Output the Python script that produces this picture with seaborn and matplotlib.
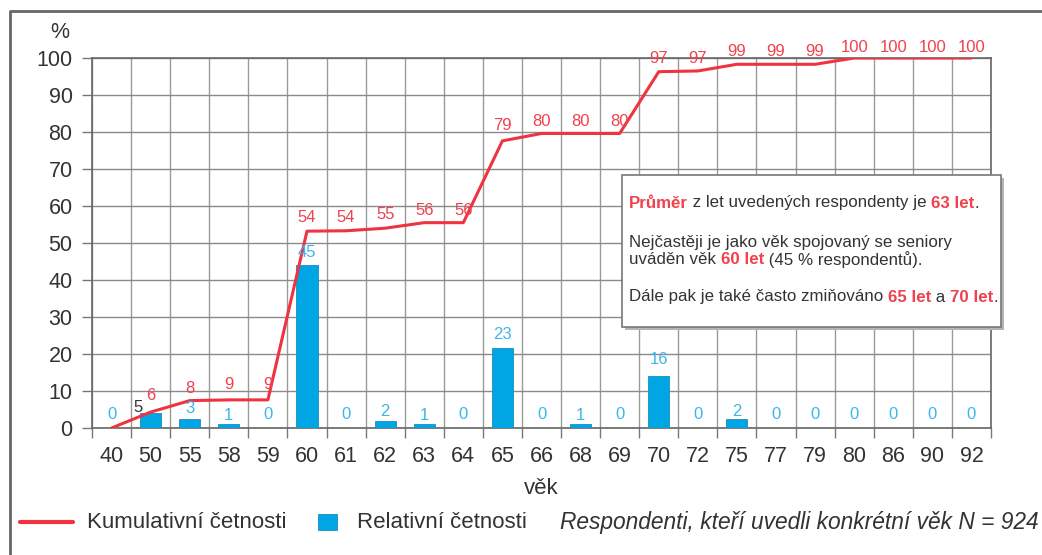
import numpy as np
import pandas as pd
import matplotlib
matplotlib.use("Agg")
import matplotlib.pyplot as plt
import seaborn as sns
from matplotlib.lines import Line2D
from matplotlib.patches import Rectangle

# ---------------- data ----------------
ages = ["40", "50", "55", "58", "59", "60", "61", "62", "63", "64", "65", "66",
        "68", "69", "70", "72", "75", "77", "79", "80", "86", "90", "92"]
rel_labels = [0, 5, 3, 1, 0, 45, 0, 2, 1, 0, 23, 0, 1, 0, 16, 0, 2, 0, 0, 0, 0, 0, 0]
rel_bars = [0, 4.0, 2.5, 1.0, 0, 44.0, 0, 2.0, 1.0, 0, 21.5, 0, 1.0, 0, 14.0, 0, 2.5,
            0, 0, 0, 0, 0, 0]
cum_labels = [None, 6, 8, 9, 9, 54, 54, 55, 56, 56, 79, 80, 80, 80, 97, 97, 99, 99, 99,
              100, 100, 100, 100]
cum_line = [0, 4.3, 7.4, 7.6, 7.6, 53.2, 53.3, 54.0, 55.5, 55.5, 77.6, 79.6, 79.6, 79.6,
            96.3, 96.5, 98.3, 98.3, 98.3, 100, 100, 100, 100]
y_ticks = [0, 10, 20, 30, 40, 50, 60, 70, 80, 90, 100]

RED = "#EF3340"
RED_TXT = "#F0414D"
BLUE = "#00A5E3"
BLUE_TXT = "#3BB6EE"
DARK = "#333333"

W, H = 1042, 555
sns.set_theme(style="white")
plt.rcParams["font.family"] = ["Liberation Sans", "DejaVu Sans"]

fig = plt.figure(figsize=(W / 100, H / 100), dpi=100)
ax = fig.add_axes([92 / W, 1 - 428 / H, (991 - 92) / W, (428 - 58) / H])

df = pd.DataFrame({"age": ages, "bar": rel_bars, "pos": np.arange(len(ages)),
                   "cum": cum_line})

sns.barplot(data=df, x="age", y="bar", order=ages, color=BLUE, saturation=1,
            width=0.54, edgecolor="#1B8FC0", linewidth=0.6, ax=ax, zorder=3)
sns.lineplot(data=df, x="pos", y="cum", color=RED, linewidth=2.2, ax=ax, zorder=4)

n = len(ages)
ax.set_xlim(-0.5, n - 0.5)
ax.set_ylim(0, 100)
ax.set_yticks(y_ticks)
ax.set_xticks(np.arange(n))
ax.set_xticklabels(ages)
ax.set_xticks(np.arange(-0.5, n, 1), minor=True)
ax.set_xlabel("")
ax.set_ylabel("")

ax.grid(False)
ax.grid(which="minor", axis="x", color="#9a9a9a", linewidth=1.0, zorder=0)
ax.grid(which="major", axis="y", color="#8a8a8a", linewidth=1.0, zorder=0)
ax.set_axisbelow(True)

ax.tick_params(axis="x", which="major", length=0, pad=13, labelsize=15.5, labelcolor=DARK)
ax.tick_params(axis="x", which="minor", length=7, width=1, color="#777777",
               direction="out", bottom=True)
ax.tick_params(axis="y", which="major", length=7, width=1, color="#777777",
               direction="out", left=True, pad=7, labelsize=15.5, labelcolor=DARK)

for s in ax.spines.values():
    s.set_visible(True)
    s.set_color("#666666")
    s.set_linewidth(1.2)

# value labels
LFS = 12
for i, v in enumerate(rel_labels):
    if i == 1:
        ax.annotate(str(v), (i, v), xytext=(-9, -4), textcoords="offset points",
                    ha="center", va="bottom", fontsize=LFS, color=DARK, zorder=6)
    else:
        yv = v if v > 0 else 1.2
        ax.annotate(str(v), (i, yv), xytext=(0, 1), textcoords="offset points",
                    ha="center", va="bottom", fontsize=LFS, color=BLUE_TXT, zorder=6)
for i, v in enumerate(cum_labels):
    if v is None:
        continue
    ax.annotate(str(v), (i, v), xytext=(0, 2), textcoords="offset points",
                ha="center", va="bottom", fontsize=LFS, color=RED_TXT, zorder=6,
                annotation_clip=False)

# axis titles
fig.text(60 / W, 1 - 33 / H, "%", fontsize=15.5, color=DARK, ha="center", va="center")
fig.text(541 / W, 1 - 488 / H, "věk", fontsize=16, color=DARK, ha="center", va="center")

# outer frame (left and top visible)
fig.add_artist(Line2D([9.5 / W, 9.5 / W, 1.0], [0.0, 1 - 10.5 / H, 1 - 10.5 / H],
                      transform=fig.transFigure, color="#666666", linewidth=2))

# legend
LGFS = 16
ly = 1 - 522 / H
fig.add_artist(Line2D([20 / W, 73 / W], [ly, ly], transform=fig.transFigure,
                      color=RED, linewidth=3))
fig.text(87 / W, ly, "Kumulativní četnosti", fontsize=LGFS, color=DARK,
         ha="left", va="center")
fig.add_artist(Rectangle((318 / W, 1 - 530 / H), 19 / W, 16 / H,
                         transform=fig.transFigure, facecolor=BLUE,
                         edgecolor="#1B8FC0", linewidth=0.6))
fig.text(357 / W, ly, "Relativní četnosti", fontsize=LGFS, color=DARK,
         ha="left", va="center")
fig.text(560 / W, ly, "Respondenti, kteří uvedli konkrétní věk N = 924",
         fontsize=16.4, color=DARK, ha="left", va="center", style="italic")

# annotation box
bx0, by0, bx1, by1 = 622, 175, 1001, 327
fig.add_artist(Rectangle(((bx0 + 3) / W, 1 - (by1 + 3) / H), (bx1 - bx0) / W,
                         (by1 - by0) / H, transform=fig.transFigure,
                         facecolor="#b5b5b5", edgecolor="none", zorder=5))
fig.add_artist(Rectangle((bx0 / W, 1 - by1 / H), (bx1 - bx0) / W, (by1 - by0) / H,
                         transform=fig.transFigure, facecolor="white",
                         edgecolor="#777777", linewidth=1.2, zorder=6))

renderer = fig.canvas.get_renderer()
FS = 12.2


def width_of(s, weight):
    t = fig.text(0, 0, "|" + s + "|", fontsize=FS, weight=weight)
    t2 = fig.text(0, 0, "||", fontsize=FS, weight=weight)
    w = t.get_window_extent(renderer).width - t2.get_window_extent(renderer).width
    t.remove()
    t2.remove()
    return w


def rich_line(x_px, y_px, segments):
    x = x_px
    for s, color, weight in segments:
        fig.text(x / W, 1 - y_px / H, s, fontsize=FS, color=color, weight=weight,
                 ha="left", va="center", zorder=7)
        x += width_of(s, weight)


N, B = "normal", "bold"
rich_line(629, 203, [("Průměr", RED_TXT, B), (" z let uvedených respondenty je ", DARK, N),
                     ("63 let", RED_TXT, B), (".", DARK, N)])
rich_line(629, 242, [("Nejčastěji je jako věk spojovaný se seniory", DARK, N)])
rich_line(629, 260, [("uváděn věk ", DARK, N), ("60 let", RED_TXT, B),
                     (" (45 % respondentů).", DARK, N)])
rich_line(629, 297, [("Dále pak je také často zmiňováno ", DARK, N), ("65 let", RED_TXT, B),
                     (" a ", DARK, N), ("70 let", RED_TXT, B), (".", DARK, N)])

fig.savefig("out.png", dpi=100)
